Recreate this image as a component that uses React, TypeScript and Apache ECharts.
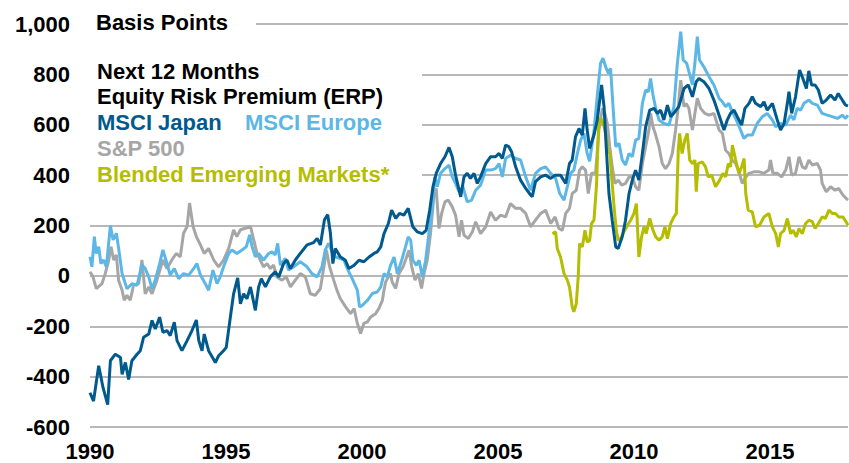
import React, { useEffect, useRef } from "react";
import * as echarts from "echarts";

// Axis settings
const yMin = -600;
const yMax = 1000;
const yStep = 200;
const xMin = 1990;
const xMax = 2017.87;
const xStep = 5;

// Legend / titles
const unitLabel = "Basis Points";
const titleLines = ["Next 12 Months", "Equity Risk Premium (ERP)"];
const seriesNames = ["MSCI Japan", "MSCI Europe", "S&P 500", "Blended Emerging Markets*"];
const seriesColors = ["#005a8e", "#5cb7e7", "#a6a6a6", "#b5bd00"];

// [decimal year, basis points]
const japanERP: [number, number][] = [
  [1990.0, -464], [1990.13, -497], [1990.32, -357], [1990.48, -444], [1990.65, -511], [1990.75, -337], [1990.93, -311],
  [1991.12, -324], [1991.18, -391], [1991.3, -344], [1991.42, -411], [1991.54, -337], [1991.73, -311], [1991.85, -297],
  [1991.97, -244], [1992.16, -231], [1992.28, -177], [1992.4, -211], [1992.56, -164], [1992.68, -224], [1992.83, -217],
  [1992.95, -237], [1993.1, -184], [1993.2, -257], [1993.38, -297], [1993.57, -257], [1993.75, -217], [1993.91, -175],
  [1994.0, -257], [1994.12, -297], [1994.2, -231], [1994.36, -297], [1994.61, -344], [1994.73, -317], [1994.91, -297],
  [1995.01, -284], [1995.16, -164], [1995.28, -71], [1995.43, -8], [1995.53, -111], [1995.65, -71], [1995.77, -91],
  [1995.9, -44], [1996.08, -137], [1996.2, -44], [1996.3, -11], [1996.45, -44], [1996.63, -4], [1996.81, 16],
  [1996.94, -4], [1997.12, 49], [1997.24, 63], [1997.37, 29], [1997.55, 63], [1997.73, 89], [1997.98, 123],
  [1998.22, 132], [1998.35, 149], [1998.47, 123], [1998.62, 223], [1998.74, 243], [1998.84, 169], [1998.93, 49],
  [1999.02, 109], [1999.2, 76], [1999.39, 62], [1999.52, 29], [1999.71, 42], [1999.89, 62], [2000.07, 56],
  [2000.26, 75], [2000.44, 89], [2000.56, 95], [2000.69, 115], [2000.81, 168], [2000.97, 208], [2001.09, 261],
  [2001.24, 228], [2001.38, 248], [2001.54, 241], [2001.7, 268], [2001.87, 195], [2002.03, 175], [2002.22, 168],
  [2002.36, 181], [2002.49, 261], [2002.61, 354], [2002.73, 407], [2002.89, 446], [2003.05, 473], [2003.2, 510],
  [2003.32, 473], [2003.44, 400], [2003.54, 354], [2003.63, 314], [2003.75, 393], [2003.87, 407], [2003.99, 387],
  [2004.12, 407], [2004.24, 367], [2004.36, 393], [2004.55, 446], [2004.73, 473], [2004.91, 473], [2005.04, 486],
  [2005.16, 466], [2005.28, 519], [2005.4, 513], [2005.5, 493], [2005.65, 433], [2005.83, 380], [2006.02, 347],
  [2006.2, 321], [2006.26, 314], [2006.38, 374], [2006.57, 393], [2006.75, 400], [2006.94, 387], [2007.1, 400],
  [2007.3, 400], [2007.49, 367], [2007.63, 446], [2007.73, 460], [2007.85, 552], [2007.98, 585], [2008.1, 559],
  [2008.2, 665], [2008.28, 579], [2008.37, 506], [2008.53, 559], [2008.65, 619], [2008.81, 758], [2008.9, 672],
  [2008.98, 513], [2009.08, 327], [2009.2, 221], [2009.33, 115], [2009.42, 109], [2009.57, 155], [2009.69, 221],
  [2009.82, 327], [2009.94, 380], [2010.06, 420], [2010.18, 380], [2010.31, 486], [2010.43, 592], [2010.58, 658],
  [2010.74, 665], [2010.86, 645], [2010.98, 658], [2011.1, 619], [2011.23, 678], [2011.35, 632], [2011.51, 652],
  [2011.65, 672], [2011.84, 744], [2012.0, 758], [2012.15, 711], [2012.29, 771], [2012.39, 784], [2012.57, 771],
  [2012.76, 744], [2012.94, 698], [2013.13, 638], [2013.31, 579], [2013.43, 619], [2013.55, 645], [2013.68, 658],
  [2013.8, 632], [2013.96, 599], [2014.08, 665], [2014.23, 685], [2014.35, 711], [2014.47, 685], [2014.66, 672],
  [2014.78, 691], [2014.9, 658], [2015.09, 685], [2015.27, 619], [2015.39, 579], [2015.52, 605], [2015.64, 685],
  [2015.7, 731], [2015.8, 645], [2015.94, 711], [2016.09, 817], [2016.21, 784], [2016.34, 744], [2016.43, 814],
  [2016.53, 758], [2016.66, 758], [2016.78, 738], [2016.92, 685], [2017.07, 698], [2017.23, 718], [2017.39, 698],
  [2017.51, 724], [2017.66, 698], [2017.78, 678], [2017.87, 675],
];

const europeERP: [number, number][] = [
  [1990.0, 76], [1990.07, 36], [1990.16, 156], [1990.23, 89], [1990.32, 116], [1990.4, 49], [1990.5, 63], [1990.6, 36],
  [1990.75, 199], [1990.85, 143], [1990.97, 169], [1991.07, 96], [1991.18, 9], [1991.36, -51], [1991.54, -31],
  [1991.73, -37], [1991.91, 43], [1992.03, 29], [1992.16, -4], [1992.28, -51], [1992.4, -17], [1992.56, 49],
  [1992.68, 103], [1992.83, 49], [1992.95, 3], [1993.1, 29], [1993.26, -11], [1993.44, 9], [1993.63, 3], [1993.81, 29],
  [1993.93, 49], [1994.06, 3], [1994.24, -31], [1994.36, -57], [1994.52, 23], [1994.67, -31], [1994.79, -4],
  [1994.91, 36], [1995.1, 89], [1995.22, 103], [1995.4, 89], [1995.59, 103], [1995.75, 116], [1995.87, 163],
  [1995.96, 116], [1996.08, 76], [1996.2, 89], [1996.38, 63], [1996.57, 89], [1996.69, 96], [1996.81, 83],
  [1996.9, 129], [1997.0, 43], [1997.18, 69], [1997.3, 23], [1997.49, 36], [1997.73, 56], [1997.98, 36], [1998.16, 9],
  [1998.35, -4], [1998.53, 36], [1998.65, 103], [1998.77, 129], [1998.9, 96], [1999.02, 76], [1999.2, 69],
  [1999.34, 62], [1999.46, 29], [1999.64, -11], [1999.83, -57], [1999.91, -123], [2000.01, -117], [2000.2, -97],
  [2000.38, -70], [2000.56, -64], [2000.69, -44], [2000.81, 9], [2000.93, -4], [2001.05, 42], [2001.18, 75],
  [2001.3, 9], [2001.48, 69], [2001.6, 115], [2001.7, 155], [2001.79, 142], [2001.87, 62], [2002.0, 42], [2002.1, 62],
  [2002.22, -4], [2002.34, 62], [2002.46, 168], [2002.59, 274], [2002.68, 393], [2002.77, 354], [2002.89, 407],
  [2003.05, 426], [2003.2, 440], [2003.32, 393], [2003.44, 367], [2003.57, 334], [2003.71, 354], [2003.87, 294],
  [2004.03, 301], [2004.18, 340], [2004.36, 360], [2004.55, 420], [2004.73, 420], [2004.91, 426], [2005.04, 446],
  [2005.16, 393], [2005.28, 466], [2005.46, 479], [2005.65, 466], [2005.83, 460], [2006.02, 393], [2006.2, 340],
  [2006.38, 407], [2006.57, 426], [2006.75, 433], [2006.94, 407], [2007.12, 387], [2007.27, 327], [2007.43, 301],
  [2007.55, 354], [2007.67, 407], [2007.79, 420], [2007.92, 486], [2008.04, 539], [2008.16, 566], [2008.28, 486],
  [2008.37, 455], [2008.53, 575], [2008.65, 715], [2008.77, 844], [2008.86, 864], [2008.96, 830], [2009.06, 804],
  [2009.14, 824], [2009.23, 672], [2009.33, 513], [2009.45, 526], [2009.57, 460], [2009.69, 440], [2009.82, 486],
  [2009.94, 473], [2010.06, 539], [2010.18, 546], [2010.31, 685], [2010.43, 738], [2010.53, 731], [2010.61, 784],
  [2010.7, 718], [2010.8, 665], [2010.92, 619], [2011.1, 605], [2011.29, 599], [2011.47, 672], [2011.59, 837],
  [2011.72, 970], [2011.81, 857], [2011.94, 844], [2012.02, 811], [2012.15, 758], [2012.24, 844], [2012.33, 950],
  [2012.41, 857], [2012.57, 830], [2012.76, 791], [2012.94, 758], [2013.13, 705], [2013.25, 691], [2013.37, 672],
  [2013.49, 685], [2013.61, 652], [2013.74, 625], [2013.92, 579], [2014.04, 546], [2014.17, 559], [2014.35, 559],
  [2014.53, 605], [2014.72, 632], [2014.9, 645], [2015.09, 619], [2015.21, 592], [2015.39, 605], [2015.58, 599],
  [2015.76, 638], [2015.88, 619], [2016.0, 665], [2016.13, 658], [2016.25, 685], [2016.43, 698], [2016.56, 685],
  [2016.74, 678], [2016.92, 645], [2017.11, 638], [2017.29, 632], [2017.48, 625], [2017.66, 638], [2017.78, 625],
  [2017.87, 638],
];

const sp500ERP: [number, number][] = [
  [1990.0, 16], [1990.11, -4], [1990.23, -51], [1990.44, -31], [1990.56, 9], [1990.69, 63], [1990.77, 116],
  [1990.87, 63], [1990.97, 83], [1991.05, -17], [1991.18, -57], [1991.26, -97], [1991.36, -77], [1991.48, -97],
  [1991.6, -37], [1991.79, -31], [1991.91, 63], [1992.03, -71], [1992.16, -44], [1992.28, -71], [1992.46, -17],
  [1992.68, 63], [1992.83, 29], [1993.01, 63], [1993.17, 89], [1993.32, 76], [1993.44, 169], [1993.57, 196],
  [1993.66, 289], [1993.79, 196], [1993.91, 156], [1994.06, 123], [1994.2, 89], [1994.36, 109], [1994.55, 63],
  [1994.73, 36], [1994.91, 63], [1995.1, 109], [1995.28, 183], [1995.4, 156], [1995.53, 183], [1995.71, 189],
  [1995.9, 196], [1996.02, 143], [1996.14, 89], [1996.26, 63], [1996.38, 36], [1996.51, 49], [1996.63, 29],
  [1996.75, 43], [1996.87, -4], [1997.06, -17], [1997.22, -4], [1997.37, -44], [1997.55, -17], [1997.73, 9],
  [1997.92, -4], [1998.1, -71], [1998.28, -77], [1998.47, -51], [1998.6, 36], [1998.69, 103], [1998.81, 36],
  [1998.96, -17], [1999.08, -57], [1999.2, -90], [1999.4, -123], [1999.58, -150], [1999.71, -130], [1999.83, -189],
  [1999.95, -229], [2000.07, -189], [2000.2, -183], [2000.32, -163], [2000.5, -150], [2000.62, -130], [2000.75, -97],
  [2000.81, -57], [2000.87, -24], [2000.97, -4], [2001.05, 9], [2001.11, -24], [2001.24, -50], [2001.36, 9],
  [2001.51, 36], [2001.6, 62], [2001.73, 102], [2001.83, 36], [2001.95, -17], [2002.07, 9], [2002.19, -50],
  [2002.28, 9], [2002.4, 62], [2002.52, 168], [2002.65, 327], [2002.73, 347], [2002.83, 188], [2002.93, 248],
  [2003.05, 294], [2003.17, 301], [2003.32, 274], [2003.44, 241], [2003.57, 155], [2003.66, 221], [2003.75, 162],
  [2003.91, 148], [2004.06, 175], [2004.18, 215], [2004.36, 168], [2004.55, 195], [2004.73, 254], [2004.91, 221],
  [2005.1, 241], [2005.28, 234], [2005.46, 287], [2005.65, 268], [2005.83, 268], [2006.02, 248], [2006.2, 195],
  [2006.38, 221], [2006.57, 248], [2006.75, 261], [2006.94, 208], [2007.1, 234], [2007.24, 188], [2007.37, 181],
  [2007.49, 248], [2007.63, 268], [2007.73, 327], [2007.88, 340], [2008.0, 420], [2008.1, 433], [2008.22, 420],
  [2008.32, 327], [2008.44, 407], [2008.59, 410], [2008.71, 579], [2008.84, 665], [2008.93, 645], [2009.02, 605],
  [2009.11, 513], [2009.2, 433], [2009.3, 367], [2009.42, 380], [2009.55, 360], [2009.69, 367], [2009.82, 393],
  [2009.94, 393], [2010.06, 354], [2010.18, 340], [2010.31, 446], [2010.43, 513], [2010.55, 579], [2010.61, 645],
  [2010.7, 592], [2010.8, 559], [2010.92, 513], [2011.04, 446], [2011.16, 426], [2011.29, 446], [2011.41, 486],
  [2011.53, 579], [2011.63, 672], [2011.72, 777], [2011.84, 672], [2011.92, 685], [2012.02, 665], [2012.15, 579],
  [2012.24, 645], [2012.33, 705], [2012.45, 665], [2012.61, 645], [2012.76, 638], [2012.94, 645], [2013.13, 579],
  [2013.25, 566], [2013.37, 499], [2013.49, 486], [2013.61, 460], [2013.74, 446], [2013.86, 413], [2013.98, 367],
  [2014.11, 393], [2014.23, 407], [2014.41, 413], [2014.6, 413], [2014.78, 407], [2014.96, 420], [2015.02, 460],
  [2015.11, 407], [2015.27, 407], [2015.43, 393], [2015.58, 420], [2015.7, 473], [2015.8, 400], [2015.94, 407],
  [2016.07, 473], [2016.19, 433], [2016.31, 426], [2016.43, 460], [2016.56, 440], [2016.74, 446], [2016.86, 420],
  [2016.92, 367], [2017.07, 334], [2017.23, 354], [2017.39, 340], [2017.53, 347], [2017.68, 321], [2017.87, 301],
];

const emERP: [number, number][] = [
  [2007.0, 168], [2007.12, 175], [2007.18, 109], [2007.3, 75], [2007.43, 9], [2007.55, -17], [2007.63, -44],
  [2007.73, -123], [2007.79, -143], [2007.88, -110], [2007.95, -4], [2008.0, 128], [2008.1, 115], [2008.2, 181],
  [2008.28, 135], [2008.37, 140], [2008.44, 208], [2008.53, 221], [2008.62, 354], [2008.71, 619], [2008.79, 625],
  [2008.9, 592], [2008.98, 552], [2009.06, 486], [2009.11, 493], [2009.18, 393], [2009.27, 274], [2009.35, 181],
  [2009.42, 142], [2009.51, 148], [2009.63, 175], [2009.76, 201], [2009.88, 221], [2010.0, 248], [2010.09, 287],
  [2010.18, 75], [2010.28, 155], [2010.37, 195], [2010.45, 168], [2010.58, 228], [2010.7, 181], [2010.8, 155],
  [2010.92, 142], [2011.04, 155], [2011.14, 195], [2011.23, 148], [2011.35, 208], [2011.47, 234], [2011.56, 248],
  [2011.63, 499], [2011.68, 566], [2011.77, 486], [2011.87, 539], [2011.96, 566], [2012.05, 460], [2012.15, 446],
  [2012.24, 460], [2012.29, 334], [2012.36, 446], [2012.51, 453], [2012.63, 433], [2012.73, 393], [2012.86, 400],
  [2013.0, 354], [2013.15, 380], [2013.27, 407], [2013.37, 393], [2013.47, 446], [2013.55, 433], [2013.62, 519],
  [2013.74, 460], [2013.86, 407], [2013.96, 433], [2014.05, 466], [2014.11, 327], [2014.2, 261], [2014.35, 254],
  [2014.47, 195], [2014.62, 201], [2014.78, 234], [2014.96, 248], [2015.09, 195], [2015.21, 168], [2015.31, 115],
  [2015.39, 168], [2015.52, 181], [2015.64, 228], [2015.76, 168], [2015.85, 181], [2015.97, 155], [2016.07, 188],
  [2016.19, 168], [2016.31, 208], [2016.43, 221], [2016.56, 215], [2016.66, 188], [2016.78, 208], [2016.92, 234],
  [2017.04, 228], [2017.17, 261], [2017.29, 248], [2017.41, 248], [2017.53, 234], [2017.68, 234], [2017.8, 215],
  [2017.87, 201],
];

const FONT = '"Liberation Sans", Arial, sans-serif';

function fmtY(v: number): string {
  const s = Math.abs(v).toString().replace(/\B(?=(\d{3})+(?!\d))/g, ",");
  return (v < 0 ? "-" : "") + s;
}

export default function App() {
  const ref = useRef<HTMLDivElement>(null);
  useEffect(() => {
    document.body.style.margin = "0";
    const chart = echarts.init(ref.current as HTMLDivElement, null, { renderer: "svg" });
    const textStyle = (text: string, fill: string) => ({
      text,
      fill,
      fontFamily: FONT,
      fontWeight: "bold",
      fontSize: 22,
      verticalAlign: "middle",
      align: "left",
    });
    const line = (idx: number, data: [number, number][]) => ({
      name: seriesNames[idx],
      type: "line",
      data,
      showSymbol: false,
      symbol: "none",
      lineStyle: { color: seriesColors[idx], width: 3 },
      itemStyle: { color: seriesColors[idx] },
      z: 2,
    });
    chart.setOption({
      animation: false,
      backgroundColor: "#ffffff",
      grid: { left: 90, right: 1, top: 24, bottom: 36, containLabel: false },
      xAxis: {
        type: "value",
        min: xMin,
        max: xMax,
        interval: xStep,
        axisLine: { show: false },
        axisTick: { show: false },
        splitLine: { show: false },
        axisLabel: {
          color: "#000",
          fontFamily: FONT,
          fontWeight: "bold",
          fontSize: 22,
          margin: 13,
          showMaxLabel: false,
          formatter: (v: number) => (Math.abs(v % xStep) < 1e-6 ? String(v) : ""),
        },
      },
      yAxis: {
        type: "value",
        min: yMin,
        max: yMax,
        interval: yStep,
        axisLine: { show: false },
        axisTick: { show: false },
        splitLine: { show: true, lineStyle: { color: "#a0a0a0", width: 1.5 } },
        axisLabel: {
          color: "#000",
          fontFamily: FONT,
          fontWeight: "bold",
          fontSize: 22,
          margin: 20,
          formatter: (v: number) => fmtY(v),
        },
      },
      graphic: [
        { type: "rect", z: 1, shape: { x: 88, y: 8, width: 168, height: 30 }, style: { fill: "#fff" } },
        { type: "rect", z: 1, shape: { x: 88, y: 56, width: 334, height: 134 }, style: { fill: "#fff" } },
        { type: "text", z: 5, x: 96, y: 22, style: textStyle(unitLabel, "#000") },
        { type: "text", z: 5, x: 97, y: 71, style: textStyle(titleLines[0], "#000") },
        { type: "text", z: 5, x: 97, y: 96, style: textStyle(titleLines[1], "#000") },
        { type: "text", z: 5, x: 97, y: 122, style: textStyle(seriesNames[0], seriesColors[0]) },
        { type: "text", z: 5, x: 245, y: 122, style: textStyle(seriesNames[1], seriesColors[1]) },
        { type: "text", z: 5, x: 97, y: 148, style: textStyle(seriesNames[2], seriesColors[2]) },
        { type: "text", z: 5, x: 97, y: 174, style: textStyle(seriesNames[3], seriesColors[3]) },
      ],
      series: [line(2, sp500ERP), line(3, emERP), line(1, europeERP), line(0, japanERP)],
    });
    return () => chart.dispose();
  }, []);
  return <div ref={ref} style={{ width: 849, height: 463 }} />;
}
